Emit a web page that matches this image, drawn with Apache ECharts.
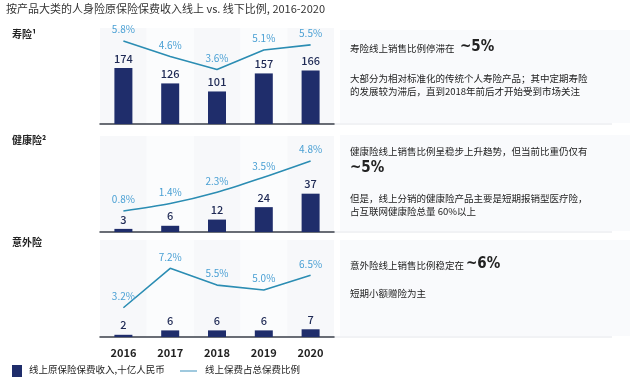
<!DOCTYPE html>
<html><head><meta charset="utf-8">
<script src="https://cdn.jsdelivr.net/npm/echarts@6/dist/echarts.min.js"></script>
<style>html,body{margin:0;padding:0;background:#fff}#c{width:640px;height:384px}</style>
</head><body><div id="c"></div>
<script>
const years = ['2016','2017','2018','2019','2020'];
const lifePremium = [174,126,101,157,166];
const lifeShare = [5.8,4.6,3.6,5.1,5.5];
const healthPremium = [3,6,12,24,37];
const healthShare = [0.8,1.4,2.3,3.5,4.8];
const accidentPremium = [2,6,6,6,7];
const accidentShare = [3.2,7.2,5.5,5.0,6.5];
const sectionTitles = ['寿险¹','健康险²','意外险'];
const legendNames = ['线上原保险保费收入,十亿人民币','线上保费占总保费比例'];

const FONT = '"Noto Sans CJK SC","Noto Sans",sans-serif';
const BAR = '#1f2d6b', LINE = '#2b8db3', LBL = '#4aa0d4';
const panels = [
  {top:28,h:96,bars:lifePremium,line:lifeShare,barMax:298,lmin:-0.6,lmax:6.8,smooth:false},
  {top:136,h:96,bars:healthPremium,line:healthShare,barMax:92.7,lmin:-0.88,lmax:6.8,smooth:0.3},
  {top:240,h:97,bars:accidentPremium,line:accidentShare,barMax:88,lmin:0.23,lmax:10.08,smooth:false}
];
const grid=[],xAxis=[],yAxis=[],series=[];
panels.forEach((p,i)=>{
  grid.push({left:100,width:234,top:p.top,height:p.h});
  xAxis.push({type:'category',gridIndex:i,data:years,
    axisLine:{show:true,lineStyle:{color:'#3a3f4a',width:1.5}},axisTick:{show:false},
    axisLabel:{show:i===2,color:'#222',fontSize:11,fontWeight:'bold',fontFamily:FONT,margin:10},
    splitArea:{show:true,areaStyle:{color:['rgba(240,242,246,0.55)','rgba(248,249,251,0.55)']}}});
  yAxis.push({type:'value',gridIndex:i,min:0,max:p.barMax,show:false,splitLine:{show:false}});
  yAxis.push({type:'value',gridIndex:i,min:p.lmin,max:p.lmax,show:false,splitLine:{show:false}});
  series.push({type:'bar',name:legendNames[0],xAxisIndex:i,yAxisIndex:2*i,data:p.bars,barWidth:18,
    itemStyle:{color:BAR},label:{show:true,position:'top',color:'#1f2a55',fontSize:11,fontWeight:500,fontFamily:FONT,distance:4}});
  series.push({type:'line',name:legendNames[1],xAxisIndex:i,yAxisIndex:2*i+1,data:p.line,smooth:p.smooth,
    symbol:'circle',symbolSize:1,showSymbol:true,lineStyle:{color:LINE,width:1.6},itemStyle:{color:'rgba(0,0,0,0)'},
    label:{show:true,position:'top',color:LBL,fontSize:10,fontFamily:FONT,distance:6,formatter:p=>Number(p.value).toFixed(1)+'%'}});
});
const T=(x,y,text,size,opt)=>Object.assign({type:'text',left:x,top:y,style:Object.assign({text,fontSize:size,fontFamily:FONT,fill:'#222'},opt||{})});
const NARROW='"Liberation Sans Narrow","DejaVu Sans Condensed",sans-serif';
const graphic=[
  {type:'rect',shape:{x:340,y:30,width:290,height:93},style:{fill:'#f9fafc'},z:-1},
  {type:'rect',shape:{x:340,y:135,width:290,height:96},style:{fill:'#f9fafc'},z:-1},
  {type:'rect',shape:{x:340,y:240,width:290,height:96},style:{fill:'#f9fafc'},z:-1},
  {type:'line',shape:{x1:334,y1:124,x2:612,y2:124},style:{stroke:'#e3e5ea',lineWidth:1}},
  {type:'line',shape:{x1:334,y1:232,x2:612,y2:232},style:{stroke:'#e3e5ea',lineWidth:1}},
  {type:'line',shape:{x1:334,y1:337,x2:612,y2:337},style:{stroke:'#e3e5ea',lineWidth:1}},
  T(6,3,'按产品大类的人身险原保险保费收入线上 vs. 线下比例, 2016-2020',11,{fill:'#333'}),
  T(12,29,sectionTitles[0],10,{fontWeight:'bold'}),
  T(12,135,sectionTitles[1],10,{fontWeight:'bold'}),
  T(12,237,sectionTitles[2],10,{fontWeight:'bold'}),
  T(350,44,'寿险线上销售比例停滞在',9.5),
  T(460,40,'~5%',15,{fontWeight:'bold',fontFamily:NARROW}),
  T(350,74,'大部分为相对标准化的传统个人寿险产品；其中定期寿险',9.5),
  T(350,87,'的发展较为滞后，直到2018年前后才开始受到市场关注',9.5),
  T(350,147,'健康险线上销售比例呈稳步上升趋势，但当前比重仍仅有',9.5),
  T(350,161,'~5%',15,{fontWeight:'bold',fontFamily:NARROW}),
  T(350,194,'但是，线上分销的健康险产品主要是短期报销型医疗险，',9.5),
  T(350,207,'占互联网健康险总量 60%以上',9.5),
  T(350,261,'意外险线上销售比例稳定在',9.5),
  T(466,257,'~6%',15,{fontWeight:'bold',fontFamily:NARROW}),
  T(350,289,'短期小额赠险为主',9.5),
  {type:'rect',shape:{x:12,y:365,width:10,height:12},style:{fill:BAR}},
  T(29,365,legendNames[0],9.5),
  {type:'line',shape:{x1:180,y1:371,x2:197,y2:371},style:{stroke:'#7fb7d3',lineWidth:1.5}},
  T(205,365,legendNames[1],9.5)
];
const chart=echarts.init(document.getElementById('c'));
chart.setOption({animation:false,grid,xAxis,yAxis,series,graphic});
</script></body></html>
